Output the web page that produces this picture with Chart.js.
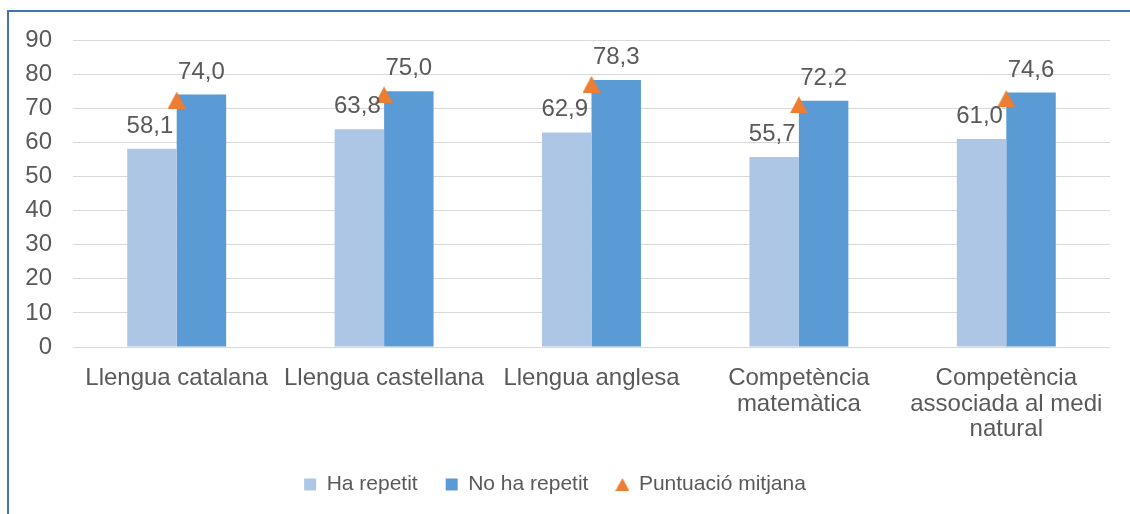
<!DOCTYPE html>
<html><head><meta charset="utf-8">
<script src="https://cdn.jsdelivr.net/npm/chart.js@4"></script>
<style>
html,body{margin:0;padding:0;background:#fff;}
#wrap{position:relative;width:1130px;height:514px;overflow:hidden;}
#frame{position:absolute;left:7px;top:10px;right:-5px;bottom:-5px;border-left:2px solid #3C76B5;border-top:2px solid #3C76B5;pointer-events:none;}
canvas{position:absolute;left:0;top:0;}
</style></head><body>
<div id="wrap"><canvas id="c" width="1130" height="514"></canvas><div id="frame"></div></div>
<script>
const categories = [
  'Llengua catalana',
  'Llengua castellana',
  'Llengua anglesa',
  ['Competència', 'matemàtica'],
  ['Competència', 'associada al medi', 'natural']
];
const haRepetit = [58.1, 63.8, 62.9, 55.7, 61.0];
const noHaRepetit = [74.0, 75.0, 78.3, 72.2, 74.6];
const puntuacioMitjana = [72.4, 73.9, 77.0, 71.0, 72.8];
const yMin = 0, yMax = 90, yStep = 10;

const FONT = '"Liberation Sans", Arial, sans-serif';
const TXT = '#595959';
const PLOT_LEFT = 73, PLOT_TOP = 40, PLOT_BOTTOM = 347, PAD_RIGHT = 20, PAD_BOTTOM = 9;

function makeTriangle(w, h) {
  const cv = document.createElement('canvas');
  cv.width = w; cv.height = h;
  const t = cv.getContext('2d');
  t.fillStyle = '#ED7D31';
  t.beginPath(); t.moveTo(w / 2, 0); t.lineTo(w, h); t.lineTo(0, h); t.closePath(); t.fill();
  return cv;
}
const triMark = makeTriangle(18, 17);
const triLegend = makeTriangle(14, 13);

const valueLabels = {
  id: 'valueLabels',
  afterDatasetsDraw(chart) {
    const ctx = chart.ctx;
    ctx.save();
    ctx.font = '24px ' + FONT;
    ctx.fillStyle = TXT;
    ctx.textAlign = 'center';
    ctx.textBaseline = 'alphabetic';
    [0, 1].forEach(di => {
      const meta = chart.getDatasetMeta(di);
      meta.data.forEach((el, i) => {
        const v = chart.data.datasets[di].data[i];
        ctx.fillText(v.toFixed(1).replace('.', ','), el.x - (di === 0 ? 2 : 0), el.y - 16);
      });
    });
    ctx.restore();
  }
};

new Chart(document.getElementById('c'), {
  data: {
    labels: categories,
    datasets: [
      { type: 'bar', label: 'Ha repetit', data: haRepetit, backgroundColor: '#ADC6E6', order: 1,
        barPercentage: 1, categoryPercentage: 0.477 },
      { type: 'bar', label: 'No ha repetit', data: noHaRepetit, backgroundColor: '#5B9BD5', order: 1,
        barPercentage: 1, categoryPercentage: 0.477 },
      { type: 'line', label: 'Puntuació mitjana', data: puntuacioMitjana, showLine: false,
        pointStyle: triMark, pointRadius: 9, pointHoverRadius: 9, order: 0,
        backgroundColor: '#ED7D31', borderColor: '#ED7D31' }
    ]
  },
  options: {
    responsive: false,
    animation: false,
    devicePixelRatio: 1,
    layout: { padding: { left: 0, top: PLOT_TOP, right: PAD_RIGHT, bottom: PAD_BOTTOM } },
    scales: {
      x: {
        offset: true,
        grid: { display: false, drawTicks: false },
        border: { display: false },
        ticks: { color: TXT, font: { family: FONT, size: 24, lineHeight: 1.08 }, padding: 18, maxRotation: 0, autoSkip: false },
        afterFit(scale) {
          const lh = scale.chart.legend ? scale.chart.legend.height : 0;
          scale.height = scale.chart.height - PLOT_BOTTOM - lh - PAD_BOTTOM;
        }
      },
      y: {
        min: yMin, max: yMax,
        grid: { color: '#D9D9D9', lineWidth: 1, drawTicks: false },
        border: { display: false },
        ticks: { stepSize: yStep, color: TXT, font: { family: FONT, size: 24 }, padding: 21 },
        afterFit(scale) { scale.width = PLOT_LEFT; }
      }
    },
    plugins: {
      tooltip: { enabled: false },
      legend: {
        position: 'bottom',
        labels: {
          usePointStyle: true,
          boxWidth: 12, boxHeight: 12,
          padding: 28,
          color: TXT,
          font: { family: FONT, size: 21 },
          generateLabels(chart) {
            const items = Chart.defaults.plugins.legend.labels.generateLabels(chart);
            items.sort((a, b) => a.datasetIndex - b.datasetIndex);
            items.forEach(it => {
              if (it.datasetIndex < 2) { it.pointStyle = 'rect'; it.lineWidth = 0; it.strokeStyle = 'rgba(0,0,0,0)'; }
              else { it.pointStyle = triLegend; }
              it.fontColor = TXT;
            });
            return items;
          }
        }
      }
    }
  },
  plugins: [valueLabels]
});
</script>
</body></html>
